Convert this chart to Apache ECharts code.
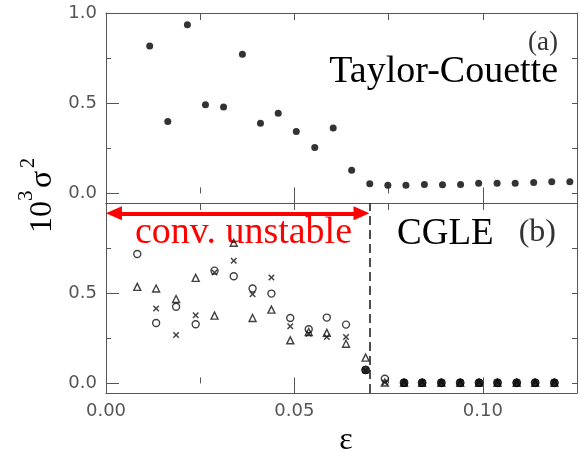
<!DOCTYPE html>
<html><head><meta charset="utf-8">
<script src="https://cdn.jsdelivr.net/npm/echarts@6/dist/echarts.min.js"></script>
<style>html,body{margin:0;padding:0;background:#fff}#c{width:580px;height:453px}</style>
</head><body><div id="c"></div>
<script>
// ---- data ----
const tcEps = [0.0116,0.0164,0.0216,0.0264,0.0312,0.0362,0.0410,0.0457,0.0505,0.0554,0.0603,0.0652,0.0700,0.0748,0.0796,0.0845,0.0893,0.0941,0.0989,0.1038,0.1086,0.1135,0.1183,0.1231];
const tcVar = [0.817,0.398,0.935,0.492,0.479,0.771,0.389,0.445,0.343,0.255,0.363,0.128,0.054,0.045,0.045,0.050,0.048,0.050,0.057,0.057,0.057,0.060,0.065,0.065];

const cgEps   = [0.0083,0.0133,0.0186,0.0238,0.0288,0.0339,0.0389,0.0439,0.0489,0.0538,0.0586,0.0637,0.0689,0.0740,0.0791,0.0839,0.0890,0.0940,0.0990,0.1039,0.1090,0.1139,0.1190];
const cgTri   = [0.535,0.526,0.468,0.585,0.376,0.780,0.363,0.409,0.239,0.285,0.280,0.220,0.143,0.005,0.004,0.004,0.004,0.004,0.004,0.004,0.004,0.004,0.004];
const cgCirc  = [0.717,0.335,0.425,0.328,0.625,0.594,0.526,0.498,0.363,0.300,0.365,0.326,0.075,0.026,0.004,0.004,0.004,0.004,0.004,0.004,0.004,0.004,0.004];
const cgCross = [null,0.415,0.268,0.378,0.615,0.680,0.494,0.587,0.317,0.275,0.257,0.257,0.070,0.005,0.004,0.004,0.004,0.004,0.004,0.004,0.004,0.004,0.004];

const xTickLabels  = [0, 0.05, 0.10];
const yTickLabelsA = [0, 0.5, 1.0];
const yTickLabelsB = [0, 0.5];
const yMinorTicks  = [0.25, 0.75];
const yRightTicks  = [0, 0.25, 0.5, 0.75];
const thresholdEps = 0.0707;
const arrowLevel = 0.943, arrowFrom = 0.0021, arrowTo = 0.0678;

// ---- styling ----
const AX = '#555';
const ls = {color: AX, width: 1};
const labelFont = {fontFamily: 'DejaVu Sans', fontSize: 18, color: '#555'};
const X_MIN = 0, X_MAX = 0.125, Y_MIN = -0.053, Y_MAX = 1.0;

function xAxesFor(g, withLabels) {
  return [
    { gridIndex: g, type: 'value', min: X_MIN, max: X_MAX, position: 'bottom',
      axisLine: {show: true, onZero: false, lineStyle: ls},
      axisTick: {show: true, inside: true, length: g === 1 ? 12 : 10, lineStyle: ls, customValues: xTickLabels},
      axisLabel: withLabels ? Object.assign({show: true, margin: 9, customValues: xTickLabels,
        formatter: v => v.toFixed(2)}, labelFont) : {show: false},
      splitLine: {show: false} },
    { gridIndex: g, type: 'value', min: X_MIN, max: X_MAX, interval: 0.025, position: 'bottom',
      axisLine: {show: false},
      axisTick: {show: true, inside: true, length: 6, lineStyle: ls},
      axisLabel: {show: false}, splitLine: {show: false} },
    { gridIndex: g, type: 'value', min: X_MIN, max: X_MAX, interval: 0.025, position: 'top',
      axisLine: {show: true, onZero: false, lineStyle: ls},
      axisTick: {show: true, inside: true, length: 7, lineStyle: ls},
      axisLabel: {show: false}, splitLine: {show: false} }
  ];
}
function yAxesFor(g, labels) {
  return [
    { gridIndex: g, type: 'value', min: Y_MIN, max: Y_MAX, position: 'left',
      axisLine: {show: true, onZero: false, lineStyle: ls},
      axisTick: {show: true, inside: true, length: 13, lineStyle: ls, customValues: labels},
      axisLabel: Object.assign({show: true, margin: 9, customValues: labels,
        formatter: v => v.toFixed(1)}, labelFont),
      splitLine: {show: false} },
    { gridIndex: g, type: 'value', min: Y_MIN, max: Y_MAX, position: 'left',
      axisLine: {show: false},
      axisTick: {show: true, inside: true, length: 5, lineStyle: ls, customValues: yMinorTicks},
      axisLabel: {show: false}, splitLine: {show: false} },
    { gridIndex: g, type: 'value', min: Y_MIN, max: Y_MAX, position: 'right',
      axisLine: {show: true, onZero: false, lineStyle: ls},
      axisTick: {show: true, inside: true, length: 5, lineStyle: ls, customValues: yRightTicks},
      axisLabel: {show: false}, splitLine: {show: false} }
  ];
}

const zip = (xs, ys) => xs.map((x, i) => [x, ys[i]]).filter(p => p[1] !== null);
const openStyle = {color: 'rgba(0,0,0,0)', borderColor: '#111', borderWidth: 1.4};
const crossPath = 'path://M0,1.6L1.6,0L5,3.4L8.4,0L10,1.6L6.6,5L10,8.4L8.4,10L5,6.6L1.6,10L0,8.4L3.4,5Z';

// circles that coincide with the crosses print as solid blobs in the original
const circleData = cgEps.map((x, i) => {
  const merged = cgCross[i] !== null && Math.abs(cgCirc[i] - cgCross[i]) < 0.01;
  return merged
    ? {value: [x, cgCirc[i]], symbolSize: 8, itemStyle: {color: '#000', borderColor: '#000', borderWidth: 1}}
    : {value: [x, cgCirc[i]]};
});

const serif = '"Liberation Serif", "Times New Roman", serif';
function txt(x, y, text, size, fill, align) {
  return {type: 'text', x: x, y: y, silent: true,
    style: {text: text, font: size + 'px ' + serif, fill: fill,
      align: align, verticalAlign: 'middle', textAlign: align, textVerticalAlign: 'middle'}};
}

const chart = echarts.init(document.getElementById('c'), null, {renderer: 'canvas'});
chart.setOption({
  animation: false,
  backgroundColor: '#fff',
  grid: [
    {left: 106, top: 13, width: 471, height: 190},
    {left: 106, top: 203, width: 471, height: 190}
  ],
  xAxis: xAxesFor(0, false).concat(xAxesFor(1, true)),
  yAxis: yAxesFor(0, yTickLabelsA).concat(yAxesFor(1, yTickLabelsB)),
  series: [
    { name: 'Taylor-Couette', type: 'scatter', xAxisIndex: 0, yAxisIndex: 0,
      symbol: 'circle', symbolSize: 7, itemStyle: {color: '#000'},
      data: zip(tcEps, tcVar) },
    { name: 'CGLE triangle', type: 'scatter', xAxisIndex: 3, yAxisIndex: 3,
      symbol: 'triangle', symbolSize: 7, itemStyle: openStyle,
      data: zip(cgEps, cgTri),
      markLine: { silent: true, symbol: ['none', 'none'], label: {show: false},
        emphasis: {disabled: true},
        lineStyle: {type: [9, 5], color: '#222', width: 1.6},
        data: [{xAxis: thresholdEps}] } },
    { name: 'CGLE circle', type: 'scatter', xAxisIndex: 3, yAxisIndex: 3,
      symbol: 'circle', symbolSize: 7, itemStyle: openStyle,
      data: circleData,
      markLine: { silent: true, symbol: ['triangle', 'triangle'], symbolSize: [14, 16],
        label: {show: false}, emphasis: {disabled: true},
        lineStyle: {type: 'solid', color: '#ff0000', width: 4},
        itemStyle: {color: '#ff0000'},
        data: [[{coord: [arrowFrom, arrowLevel]}, {coord: [arrowTo, arrowLevel]}]] } },
    { name: 'CGLE cross', type: 'scatter', xAxisIndex: 3, yAxisIndex: 3,
      symbol: crossPath, symbolSize: 6.5, itemStyle: {color: '#111'},
      data: zip(cgEps, cgCross) }
  ],
  graphic: [
    {type: 'group', x: 54, y: 233, rotation: Math.PI / 2, silent: true,
      children: [
        {type: 'text', x: 0,  y: -11, style: {text: '10', font: '32px ' + serif, fill: '#000', align: 'left', verticalAlign: 'middle', textAlign: 'left', textVerticalAlign: 'middle'}},
        {type: 'text', x: 32, y: -28, style: {text: '3',  font: '21px ' + serif, fill: '#000', align: 'left', verticalAlign: 'middle', textAlign: 'left', textVerticalAlign: 'middle'}},
        {type: 'text', x: 45, y: -11, style: {text: 'σ',  font: '32px ' + serif, fill: '#000', align: 'left', verticalAlign: 'middle', textAlign: 'left', textVerticalAlign: 'middle'}},
        {type: 'text', x: 65, y: -25, style: {text: '2',  font: '20px ' + serif, fill: '#000', align: 'left', verticalAlign: 'middle', textAlign: 'left', textVerticalAlign: 'middle'}}
      ]},
    txt(346, 441, 'ε', 32, '#000', 'center'),
    txt(558, 72, 'Taylor-Couette', 38, '#000', 'right'),
    txt(558, 43, '(a)', 27, '#333', 'right'),
    txt(397, 234, 'CGLE', 37, '#000', 'left'),
    txt(556, 233, '(b)', 32, '#333', 'right'),
    txt(135, 233, 'conv. unstable', 38, '#ff0000', 'left')
  ]
});
</script></body></html>
